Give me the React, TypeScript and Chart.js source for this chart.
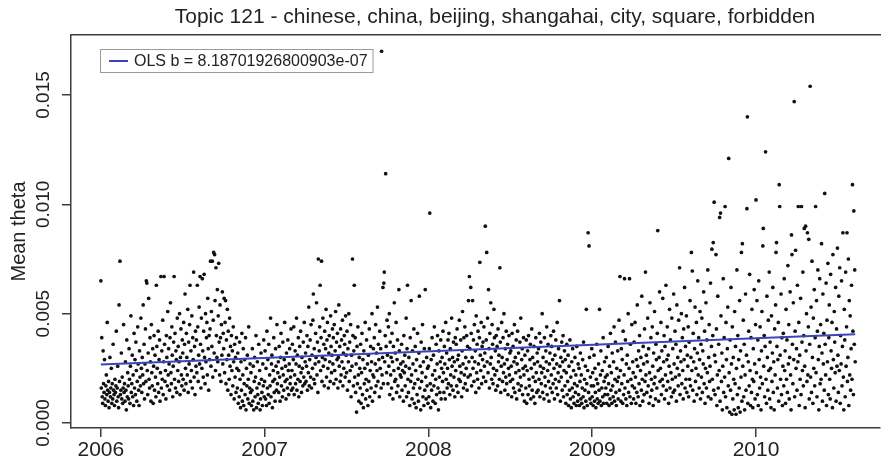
import { useEffect, useRef } from "react";
import { Chart, registerables } from "chart.js";

Chart.register(...registerables);

const TITLE = "Topic 121 - chinese, china, beijing, shangahai, city, square, forbidden";
const Y_TITLE = "Mean theta";
const X_TICKS = [2006, 2007, 2008, 2009, 2010];
const Y_TICKS = [0, 0.005, 0.01, 0.015];
const OLS_SLOPE = 8.18701926800903e-7; // per day
const OLS_INTERCEPT = 0.00268; // value at 2006-01-01
const LEGEND_LABEL = "OLS b = 8.18701926800903e-07";

// daily mean theta, in thousandths
const theta2006 = [
  6.5, 1.6, 3.9, 1.2, 0.9, 3.3, 1.8, 1.4, 2.9, 1.1, 0.8, 1.7, 2.2, 1.3, 4.6, 1.5, 1.0, 1.9, 0.7, 1.4, 3.0, 1.2, 1.6, 2.5, 0.9, 1.8, 1.1, 3.6, 1.5, 1.3,
  0.8, 2.0, 1.4, 1.7, 4.2, 1.0, 1.6, 2.6, 1.2, 0.7, 5.4, 1.9, 7.4, 1.3, 1.5, 3.2, 1.1, 2.1, 0.9, 1.6, 4.5, 1.4, 1.8, 1.0, 2.8, 1.5, 0.6, 3.8, 1.2, 2.3,
  1.7, 1.1, 3.4, 2.0, 0.9, 2.6, 4.9, 1.4, 1.8, 3.1, 1.2, 2.2, 0.8, 4.1, 1.6, 2.9, 1.3, 3.7, 2.4, 1.0, 1.9, 4.4, 2.7, 1.5, 0.8, 3.3, 2.1, 1.7, 4.8, 2.5,
  1.4, 3.0, 2.2, 5.4, 1.8, 3.6, 1.1, 2.7, 4.3, 1.9, 6.5, 6.4, 2.4, 1.3, 3.2, 5.7, 2.0, 1.6, 3.9, 2.8, 1.0, 4.5, 2.3, 1.7, 3.4, 0.9, 2.6, 4.0, 1.5, 3.1,
  2.1, 1.2, 6.3, 3.5, 2.5, 1.8, 4.2, 1.4, 2.9, 3.8, 1.0, 2.3, 6.7, 1.6, 3.3, 2.0, 4.7, 1.3, 2.8, 6.7, 3.6, 1.9, 2.4, 1.1, 4.0, 3.0, 1.7, 5.1, 2.2, 3.4,
  2.7, 1.5, 3.9, 5.5, 2.3, 1.8, 4.4, 3.1, 1.2, 2.6, 3.7, 6.7, 2.0, 4.1, 1.6, 3.3, 2.9, 1.4, 4.8, 2.4, 3.5, 1.9, 2.8, 5.0, 1.3, 3.0, 4.3, 2.2, 1.7, 3.8,
  3.2, 2.0, 4.6, 1.5, 3.6, 5.9, 2.5, 1.8, 4.1, 3.0, 2.2, 5.2, 1.4, 3.7, 2.7, 4.5, 6.3, 1.9, 3.3, 2.4, 4.9, 1.6, 3.9, 2.9, 6.9, 2.1, 3.5, 1.3, 4.2, 2.6,
  3.8, 2.3, 6.3, 4.4, 1.9, 3.1, 5.3, 2.7, 6.7, 3.6, 1.6, 4.8, 2.5, 6.6, 3.3, 2.1, 4.2, 6.8, 3.0, 1.8, 5.0, 2.8, 3.9, 4.6, 2.2, 5.7, 3.4, 1.5, 4.0, 2.9,
  4.3, 7.4, 2.6, 5.1, 3.5, 7.4, 2.1, 4.7, 7.8, 3.2, 7.7, 5.6, 2.4, 7.1, 4.0, 3.0, 6.1, 2.8, 4.9, 7.3, 3.7, 2.2, 5.4, 3.9, 1.9, 4.5, 3.1, 6.0, 2.7, 4.1,
  3.4, 5.7, 2.3, 4.6, 5.6, 1.8, 3.8, 2.9, 5.2, 1.5, 4.2, 3.1, 2.0, 4.8, 2.6, 3.5, 1.3, 4.0, 2.4, 3.3, 1.7, 4.4, 2.8, 1.1, 3.6, 2.1, 3.0, 1.4, 3.9, 2.5,
  1.6, 3.2, 0.9, 2.4, 1.2, 3.7, 2.0, 0.7, 2.8, 1.5, 4.1, 1.0, 2.2, 3.4, 0.8, 1.8, 2.9, 1.3, 3.9, 0.6, 2.5, 1.7, 3.1, 1.1, 2.0, 4.4, 0.9, 1.6, 2.7, 1.4,
  2.3, 0.8, 1.5, 3.4, 1.0, 2.6, 0.6, 1.9, 3.0, 1.2, 2.1, 4.0, 0.7, 1.6, 2.8, 1.3, 0.9, 3.6, 1.8, 2.4, 0.6, 1.1, 3.2, 2.0, 1.4, 0.8, 2.7, 1.7, 3.8, 1.2,
];

const theta2007 = [
  1.9, 3.3, 1.1, 2.5, 0.8, 4.2, 1.6, 2.9, 1.3, 3.6, 0.9, 2.2, 1.7, 4.8, 1.2, 2.7, 3.1, 0.7, 1.9, 2.4, 3.9, 1.4, 2.0, 1.0, 3.4, 2.6, 1.5, 4.5, 1.8, 2.3,
  2.8, 1.4, 3.5, 2.1, 1.0, 3.0, 4.1, 1.7, 2.5, 1.2, 3.7, 2.2, 1.5, 2.9, 4.6, 1.9, 2.6, 1.1, 3.2, 2.0, 1.6, 3.8, 2.4, 1.3, 2.7, 3.4, 1.8, 2.1, 4.3, 1.5,
  2.4, 3.6, 1.6, 2.9, 4.4, 1.3, 2.2, 3.3, 1.8, 2.7, 4.8, 1.5, 3.1, 2.0, 3.9, 1.2, 2.6, 3.5, 1.9, 4.2, 2.3, 1.4, 3.0, 2.5, 1.7, 3.7, 2.1, 4.6, 1.8, 2.8,
  3.2, 1.9, 2.6, 4.0, 1.5, 3.5, 2.3, 5.3, 1.7, 2.9, 3.8, 2.1, 4.5, 1.6, 3.1, 2.5, 4.7, 5.9, 2.0, 3.4, 1.8, 2.7, 4.1, 3.0, 5.5, 2.2, 3.7, 1.4, 7.5, 2.8,
  3.3, 4.4, 6.3, 2.4, 3.9, 7.4, 1.9, 3.0, 4.8, 2.6, 3.6, 1.7, 4.2, 2.9, 3.4, 5.2, 2.1, 3.8, 4.6, 2.5, 1.6, 3.2, 4.0, 2.8, 1.9, 4.9, 3.5, 2.3, 3.1, 4.3,
  2.7, 3.9, 1.8, 4.5, 2.4, 3.3, 5.1, 2.0, 3.7, 2.9, 4.1, 1.6, 3.0, 5.4, 2.6, 3.5, 1.9, 4.3, 2.2, 3.8, 2.8, 4.7, 1.7, 3.2, 2.5, 4.0, 3.6, 2.1, 4.9, 3.1,
  2.3, 4.2, 1.5, 3.4, 2.8, 5.0, 1.9, 3.7, 2.4, 4.5, 1.2, 3.1, 2.6, 7.5, 4.0, 1.7, 3.3, 6.3, 2.1, 3.9, 1.4, 2.7, 0.5, 3.5, 1.8, 4.4, 2.2, 1.0, 3.0, 2.5,
  1.6, 3.6, 0.9, 2.3, 4.1, 1.3, 2.9, 0.7, 3.3, 1.8, 2.5, 4.6, 1.1, 2.0, 3.8, 1.5, 2.7, 0.8, 3.1, 1.9, 4.3, 1.2, 2.4, 3.5, 1.6, 2.8, 5.0, 1.0, 2.2, 3.4,
  2.1, 3.9, 1.4, 2.7, 4.5, 1.7, 3.2, 2.4, 5.3, 1.9, 3.6, 2.9, 1.2, 4.2, 2.5, 3.4, 1.6, 17.0, 2.2, 3.0, 6.2, 1.8, 6.4, 6.9, 2.8, 4.0, 11.4, 3.5, 2.3, 4.7,
  3.1, 1.8, 4.4, 2.6, 5.0, 1.3, 3.7, 2.2, 3.0, 1.6, 4.1, 2.8, 1.1, 3.5, 2.4, 5.5, 1.9, 3.2, 2.0, 4.6, 1.4, 2.9, 3.8, 1.7, 2.5, 6.1, 3.3, 1.2, 2.2, 2.7,
  2.1, 3.6, 1.5, 2.4, 2.8, 1.0, 4.0, 2.3, 3.1, 1.7, 2.6, 4.8, 1.2, 3.4, 6.3, 2.0, 1.4, 3.0, 2.5, 0.8, 3.9, 1.9, 5.6, 2.2, 1.1, 3.3, 2.7, 1.6, 4.3, 0.9,
  1.8, 3.5, 2.4, 0.7, 2.9, 1.3, 4.1, 2.0, 1.0, 3.2, 5.8, 1.6, 2.6, 0.6, 3.7, 1.9, 2.3, 4.5, 1.2, 2.8, 0.8, 3.4, 1.5, 6.1, 2.1, 1.1, 3.0, 1.7, 2.5, 0.9,
];

const theta2008 = [
  2.6, 1.2, 3.4, 9.6, 1.8, 0.7, 2.9, 1.5, 3.9, 2.2, 1.0, 3.1, 1.7, 4.4, 2.4, 0.9, 2.0, 3.6, 1.3, 2.7, 4.0, 1.6, 0.6, 3.3, 2.1, 1.4, 2.8, 3.8, 1.1, 2.5,
  3.0, 1.9, 4.2, 2.3, 1.4, 3.5, 2.7, 1.1, 4.6, 2.0, 3.2, 1.6, 2.5, 3.8, 1.8, 4.1, 2.9, 1.3, 3.4, 2.2, 1.7, 4.8, 2.6, 3.0, 1.5, 3.7, 2.1, 2.8, 1.2, 3.9,
  2.4, 3.6, 1.7, 4.3, 2.9, 1.4, 3.1, 2.0, 4.7, 2.6, 1.9, 3.8, 2.3, 1.2, 3.3, 5.1, 2.7, 1.6, 3.9, 2.2, 4.4, 1.8, 3.0, 2.5, 4.0, 1.5, 3.5, 2.1, 5.6, 2.8,
  6.7, 3.4, 2.2, 6.2, 4.1, 1.7, 3.0, 5.6, 2.5, 3.8, 1.9, 4.5, 2.8, 3.3, 1.4, 4.9, 2.3, 3.6, 2.0, 4.2, 2.7, 1.6, 3.9, 7.35, 3.1, 2.4, 4.6, 1.8, 3.5, 2.9,
  3.7, 2.1, 4.4, 2.6, 3.2, 9.0, 1.9, 3.8, 7.8, 2.8, 4.8, 2.3, 6.1, 3.4, 1.6, 4.1, 2.7, 5.5, 3.0, 2.0, 4.5, 3.6, 1.8, 2.5, 5.2, 3.9, 2.2, 3.3, 1.5, 4.0,
  2.4, 3.5, 1.7, 4.3, 2.8, 3.1, 2.0, 7.1, 3.7, 1.4, 2.6, 4.6, 3.0, 1.9, 3.9, 2.3, 5.0, 2.7, 1.5, 3.4, 2.1, 4.2, 1.8, 2.9, 3.6, 1.3, 2.5, 4.0, 2.2, 3.2,
  1.9, 3.3, 2.6, 1.2, 4.1, 2.0, 3.5, 1.6, 2.8, 4.5, 1.4, 3.0, 2.3, 3.8, 1.1, 2.7, 4.2, 1.8, 3.2, 2.4, 1.5, 3.7, 2.1, 4.8, 1.7, 2.9, 3.4, 1.3, 2.5, 3.9,
  2.2, 1.0, 3.1, 2.6, 1.6, 3.8, 0.9, 2.4, 3.3, 1.3, 4.0, 2.0, 1.7, 2.9, 3.6, 1.1, 2.5, 4.3, 1.5, 3.0, 2.1, 1.2, 3.5, 2.7, 0.9, 1.9, 3.9, 2.3, 1.4, 3.2,
  2.8, 1.5, 3.4, 2.0, 4.1, 1.2, 2.6, 3.7, 1.8, 2.3, 5.0, 1.4, 3.0, 2.5, 1.1, 3.9, 2.1, 1.7, 3.3, 2.8, 4.4, 1.3, 2.4, 3.6, 1.9, 1.0, 2.7, 3.2, 1.6, 4.0,
  2.2, 3.5, 1.4, 2.9, 1.8, 4.2, 2.5, 1.1, 3.1, 2.0, 3.8, 1.6, 2.7, 4.6, 1.3, 2.3, 3.4, 1.9, 5.6, 2.6, 1.0, 3.0, 2.1, 3.7, 1.5, 2.8, 4.0, 1.2, 2.4, 3.3,
  1.7, 2.9, 0.9, 2.3, 3.6, 1.3, 1.9, 3.1, 0.8, 2.6, 1.5, 3.8, 1.1, 2.1, 0.7, 2.8, 1.6, 3.4, 1.2, 2.4, 0.9, 1.8, 3.0, 1.4, 2.2, 0.8, 3.5, 1.7, 1.0, 2.7,
  1.3, 2.5, 0.8, 1.9, 3.2, 1.1, 2.2, 0.9, 1.6, 2.9, 1.2, 3.7, 0.7, 2.0, 1.5, 2.6, 1.0, 5.2, 1.8, 0.8, 2.4, 8.7, 1.4, 8.1, 3.0, 1.1, 2.1, 0.9, 1.7, 3.4,
];

const theta2009 = [
  1.2, 2.3, 0.8, 1.7, 3.1, 1.0, 2.5, 1.4, 0.7, 2.0, 3.6, 1.1, 1.8, 0.9, 2.7, 1.5, 5.2, 1.0, 2.2, 3.3, 0.8, 1.6, 2.4, 1.2, 3.9, 0.9, 1.9, 2.8, 1.3, 2.1,
  1.6, 3.0, 0.9, 2.2, 1.3, 3.5, 1.8, 0.8, 2.6, 1.1, 4.1, 1.5, 2.3, 0.9, 3.2, 1.7, 1.2, 2.8, 4.4, 1.0, 2.0, 3.7, 1.4, 0.8, 2.5, 1.9, 3.3, 1.1, 2.1, 4.7,
  1.5, 6.7, 2.4, 1.0, 3.4, 1.8, 2.9, 0.9, 4.2, 1.3, 2.2, 6.6, 1.6, 3.8, 1.1, 2.7, 0.8, 3.1, 1.9, 5.0, 1.4, 2.5, 6.6, 1.2, 3.6, 2.0, 0.9, 4.5, 1.7, 2.8,
  2.3, 1.1, 3.7, 1.6, 4.6, 2.1, 0.9, 2.9, 1.4, 5.4, 2.6, 1.2, 3.3, 1.8, 4.0, 0.8, 2.4, 3.0, 1.5, 5.8, 2.0, 1.0, 3.5, 2.7, 1.3, 4.3, 1.9, 6.9, 2.2, 3.1,
  1.4, 2.8, 4.8, 1.7, 3.4, 0.9, 2.3, 5.5, 1.2, 3.9, 2.0, 1.5, 4.4, 2.6, 0.8, 3.2, 1.8, 5.1, 2.1, 1.1, 3.6, 2.9, 1.6, 4.1, 8.8, 2.4, 1.0, 3.0, 6.0, 1.9,
  2.5, 4.6, 1.3, 3.3, 2.0, 5.7, 1.7, 2.8, 4.0, 1.1, 3.5, 2.2, 6.3, 1.5, 2.9, 4.4, 1.9, 3.1, 0.9, 2.6, 5.2, 1.6, 3.8, 2.3, 1.2, 4.8, 2.0, 3.4, 1.4, 5.9,
  2.7, 1.5, 4.2, 2.1, 3.6, 1.0, 5.4, 2.5, 3.0, 1.7, 4.7, 2.2, 7.1, 1.3, 3.3, 2.8, 5.0, 1.8, 3.9, 2.4, 1.1, 4.3, 2.9, 6.2, 1.6, 3.5, 2.0, 4.9, 1.4, 3.1,
  2.6, 4.4, 1.2, 3.7, 2.0, 5.6, 1.7, 3.0, 7.8, 2.4, 6.95, 1.5, 4.1, 2.8, 1.0, 3.4, 5.3, 1.9, 2.5, 4.6, 1.3, 3.2, 6.5, 2.2, 3.9, 1.6, 2.9, 5.1, 1.1, 3.6,
  2.1, 4.8, 1.4, 3.3, 2.7, 6.0, 1.8, 4.2, 0.9, 2.5, 5.5, 1.6, 3.8, 2.3, 7.0, 1.2, 3.0, 4.5, 1.9, 2.6, 6.4, 1.1, 3.5, 7.95, 2.0, 4.0, 8.25, 1.5, 10.1, 3.1,
  1.3, 2.8, 7.7, 4.3, 0.8, 2.2, 5.8, 1.6, 3.6, 2.4, 9.4, 1.0, 9.6, 4.9, 1.9, 3.2, 0.6, 2.6, 6.6, 1.4, 3.9, 2.1, 9.9, 1.2, 4.6, 2.9, 0.7, 3.4, 5.3, 1.7,
  12.1, 2.3, 0.5, 3.8, 1.5, 6.2, 2.7, 0.4, 4.4, 1.1, 3.0, 2.0, 0.6, 5.1, 1.8, 3.5, 0.4, 2.5, 7.0, 1.3, 4.0, 0.7, 2.9, 1.6, 5.6, 0.5, 3.3, 2.1, 7.8, 1.0,
  8.2, 2.6, 4.7, 1.2, 3.6, 0.6, 2.2, 5.9, 1.5, 3.1, 9.8, 14.0, 0.9, 2.8, 4.2, 1.7, 6.8, 2.4, 0.8, 3.9, 1.4, 5.2, 2.0, 0.7, 3.4, 1.9, 6.1, 2.7, 1.1, 4.5,
];

const theta2010 = [
  10.2, 2.3, 5.6, 1.3, 3.8, 0.8, 6.5, 2.9, 1.6, 4.4, 2.1, 0.6, 3.3, 5.1, 1.8, 8.1, 8.9, 2.6, 4.0, 1.2, 3.5, 12.4, 2.0, 0.9, 5.8, 3.0, 1.5, 4.7, 2.4, 6.9,
  1.1, 3.7, 2.5, 0.7, 4.9, 1.9, 3.2, 6.2, 1.4, 2.8, 0.6, 4.3, 2.2, 5.4, 7.8, 8.25, 3.5, 1.6, 2.9, 4.6, 1.0, 10.9, 9.9, 3.1, 2.0, 5.9, 1.3, 3.9, 0.8, 2.6,
  4.1, 1.7, 6.6, 2.4, 3.3, 0.9, 5.2, 2.0, 3.8, 1.4, 7.2, 2.7, 4.5, 1.1, 3.0, 6.0, 2.2, 0.6, 8.6, 7.7, 3.6, 1.8, 5.5, 2.9, 14.7, 1.2, 4.2, 7.9, 2.5, 3.4,
  1.5, 6.3, 2.8, 9.9, 4.6, 0.8, 3.1, 2.0, 5.7, 1.3, 9.9, 3.7, 2.4, 6.9, 1.7, 4.0, 8.9, 2.6, 0.7, 9.0, 3.3, 5.0, 1.9, 8.7, 2.2, 4.4, 8.4, 1.1, 3.6, 15.4,
  2.1, 5.3, 1.4, 7.4, 3.0, 0.9, 4.8, 2.5, 6.1, 1.7, 3.9, 9.9, 2.3, 5.6, 1.2, 4.2, 7.0, 2.9, 0.6, 3.5, 6.6, 1.8, 4.5, 2.0, 8.2, 3.2, 1.0, 5.9, 2.7, 4.1,
  1.5, 10.5, 3.6, 2.2, 6.4, 0.8, 4.7, 2.8, 7.3, 1.3, 3.9, 5.4, 2.0, 1.1, 6.8, 3.3, 2.5, 4.6, 0.7, 7.7, 2.9, 1.6, 5.1, 3.7, 2.3, 6.2, 1.0, 4.3, 2.6, 8.0,
  3.1, 1.4, 5.8, 2.4, 7.1, 0.9, 4.0, 2.7, 6.5, 1.7, 3.5, 8.7, 2.1, 0.6, 5.2, 3.8, 1.2, 6.9, 2.6, 4.4, 8.7, 1.9, 3.0, 7.5, 0.8, 5.6, 2.2, 4.9, 1.5, 3.4,
  6.3, 2.0, 10.9, 4.2, 1.3, 9.7, 3.6, 7.0, 2.8,
];

const YEARS = [2006, 2007, 2008, 2009, 2010];
const SERIES = [theta2006, theta2007, theta2008, theta2009, theta2010];

const X_MIN = 2005.8177;
const X_MAX = 2010.757;
const Y_MIN = -0.000229;
const Y_MAX = 0.017744;

const FONT = '"Liberation Sans", Arial, Helvetica, sans-serif';
const BLUE = "#3a45b8";

function buildPoints() {
  const pts: { x: number; y: number }[] = [];
  SERIES.forEach((arr, k) => {
    const len = YEARS[k] === 2010 ? 360 : arr.length;
    arr.forEach((v, i) => pts.push({ x: YEARS[k] + i / len, y: v / 1000 }));
  });
  return pts;
}

const titlePlugin = {
  id: "plotTitle",
  afterDraw(chart: any) {
    const ctx = chart.ctx;
    ctx.save();
    ctx.font = `21px ${FONT}`;
    ctx.fillStyle = "#222";
    ctx.textAlign = "center";
    ctx.textBaseline = "middle";
    ctx.fillText(TITLE, 495, 17);
    ctx.restore();
  },
};

const legendPlugin = {
  id: "olsLegend",
  afterDraw(chart: any) {
    const ctx = chart.ctx;
    const ca = chart.chartArea;
    const bx = ca.left + 29;
    const by = ca.top + 14;
    ctx.save();
    ctx.font = `16px ${FONT}`;
    const tw = ctx.measureText(LEGEND_LABEL).width;
    const bw = 34 + tw + 5;
    const bh = 23;
    ctx.fillStyle = "#fff";
    ctx.fillRect(bx, by, bw, bh);
    ctx.strokeStyle = "#9a9a9a";
    ctx.lineWidth = 1;
    ctx.strokeRect(bx + 0.5, by + 0.5, bw, bh);
    ctx.strokeStyle = BLUE;
    ctx.lineWidth = 2;
    ctx.beginPath();
    ctx.moveTo(bx + 9, by + bh / 2 + 0.5);
    ctx.lineTo(bx + 28, by + bh / 2 + 0.5);
    ctx.stroke();
    ctx.fillStyle = "#222";
    ctx.textBaseline = "middle";
    ctx.textAlign = "left";
    ctx.fillText(LEGEND_LABEL, bx + 34, by + bh / 2 + 1);
    ctx.restore();
  },
};

export default function App() {
  const ref = useRef<HTMLCanvasElement | null>(null);

  useEffect(() => {
    if (!ref.current) return;
    const points = buildPoints();
    const lastX = points[points.length - 1].x;
    const days = (lastX - 2006) * 365.25;
    const olsLine = [
      { x: 2006, y: OLS_INTERCEPT },
      { x: lastX, y: OLS_INTERCEPT + OLS_SLOPE * days },
    ];
    const axisColor = "#3c3c3c";
    const chart = new Chart(ref.current, {
      type: "scatter",
      data: {
        datasets: [
          {
            type: "line",
            label: LEGEND_LABEL,
            data: olsLine,
            borderColor: BLUE,
            borderWidth: 2,
            pointRadius: 0,
            fill: false,
            order: 0,
          } as any,
          {
            label: "Mean theta",
            data: points,
            backgroundColor: "#111",
            borderWidth: 0,
            pointRadius: 1.85,
            order: 1,
          },
        ],
      },
      options: {
        responsive: false,
        animation: false,
        devicePixelRatio: 1,
        events: [],
        layout: { padding: { top: 35, right: 0, bottom: 0, left: 0 } },
        plugins: {
          legend: { display: false },
          tooltip: { enabled: false },
          title: { display: false },
        },
        scales: {
          x: {
            type: "linear",
            position: "bottom",
            min: X_MIN,
            max: X_MAX,
            afterBuildTicks: (s: any) => {
              s.ticks = X_TICKS.map((v) => ({ value: v }));
            },
            afterFit: (s: any) => {
              s.height = 31;
            },
            ticks: {
              callback: (v: any) => String(v),
              font: { family: FONT, size: 21 },
              color: "#222",
              padding: 1,
              maxRotation: 0,
              autoSkip: false,
            },
            grid: {
              drawOnChartArea: false,
              drawTicks: true,
              tickLength: 9,
              color: axisColor,
              lineWidth: 1.5,
            },
            border: { display: true, color: axisColor, width: 1.5 },
          },
          x2: {
            type: "linear",
            position: "top",
            min: X_MIN,
            max: X_MAX,
            afterFit: (s: any) => {
              s.height = 0;
            },
            ticks: { display: false },
            grid: { display: false },
            border: { display: true, color: axisColor, width: 1.5 },
          },
          y: {
            type: "linear",
            position: "left",
            min: Y_MIN,
            max: Y_MAX,
            afterBuildTicks: (s: any) => {
              s.ticks = Y_TICKS.map((v) => ({ value: v }));
            },
            afterFit: (s: any) => {
              s.width = 71;
            },
            ticks: {
              callback: (v: any) => Number(v).toFixed(3),
              font: { family: FONT, size: 19 },
              color: "#222",
              minRotation: 90,
              maxRotation: 90,
              crossAlign: "center",
              padding: -6,
              autoSkip: false,
            },
            grid: {
              drawOnChartArea: false,
              drawTicks: true,
              tickLength: 9,
              color: axisColor,
              lineWidth: 1.5,
            },
            border: { display: true, color: axisColor, width: 1.5 },
            title: {
              display: true,
              text: Y_TITLE,
              font: { family: FONT, size: 20 },
              color: "#222",
              padding: { top: 7, bottom: 0 },
            },
          },
        },
      },
      plugins: [titlePlugin, legendPlugin],
    } as any);
    return () => chart.destroy();
  }, []);

  return (
    <div style={{ position: "fixed", left: 0, top: 0, width: 884, height: 459, background: "#fff" }}>
      <canvas ref={ref} width={884} height={459} style={{ display: "block" }} />
    </div>
  );
}
